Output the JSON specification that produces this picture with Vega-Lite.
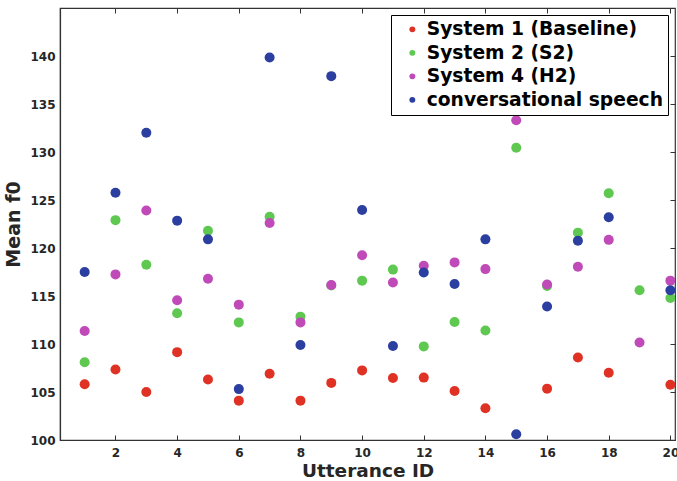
{
  "$schema": "https://vega.github.io/schema/vega-lite/v6.json",
  "autosize": "none",
  "width": 615,
  "height": 432,
  "padding": {"left": 60, "top": 8, "right": 2, "bottom": 41},
  "background": "white",
  "config": {
    "view": {"stroke": "#333333", "strokeWidth": 1.2},
    "font": "DejaVu Sans"
  },
  "data": {"values": [
    {"u":1,"s":"System 1 (Baseline)","f":105.8},{"u":2,"s":"System 1 (Baseline)","f":107.35},{"u":3,"s":"System 1 (Baseline)","f":105.0},{"u":4,"s":"System 1 (Baseline)","f":109.15},{"u":5,"s":"System 1 (Baseline)","f":106.3},{"u":6,"s":"System 1 (Baseline)","f":104.1},{"u":7,"s":"System 1 (Baseline)","f":106.9},{"u":8,"s":"System 1 (Baseline)","f":104.1},{"u":9,"s":"System 1 (Baseline)","f":105.95},{"u":10,"s":"System 1 (Baseline)","f":107.25},{"u":11,"s":"System 1 (Baseline)","f":106.45},{"u":12,"s":"System 1 (Baseline)","f":106.5},{"u":13,"s":"System 1 (Baseline)","f":105.1},{"u":14,"s":"System 1 (Baseline)","f":103.3},{"u":16,"s":"System 1 (Baseline)","f":105.35},{"u":17,"s":"System 1 (Baseline)","f":108.6},{"u":18,"s":"System 1 (Baseline)","f":107.0},{"u":20,"s":"System 1 (Baseline)","f":105.75},
    {"u":1,"s":"System 2 (S2)","f":108.1},{"u":2,"s":"System 2 (S2)","f":122.9},{"u":3,"s":"System 2 (S2)","f":118.25},{"u":4,"s":"System 2 (S2)","f":113.2},{"u":5,"s":"System 2 (S2)","f":121.8},{"u":6,"s":"System 2 (S2)","f":112.25},{"u":7,"s":"System 2 (S2)","f":123.25},{"u":8,"s":"System 2 (S2)","f":112.85},{"u":9,"s":"System 2 (S2)","f":116.1},{"u":10,"s":"System 2 (S2)","f":116.6},{"u":11,"s":"System 2 (S2)","f":117.75},{"u":12,"s":"System 2 (S2)","f":109.75},{"u":13,"s":"System 2 (S2)","f":112.3},{"u":14,"s":"System 2 (S2)","f":111.4},{"u":15,"s":"System 2 (S2)","f":130.45},{"u":16,"s":"System 2 (S2)","f":116.05},{"u":17,"s":"System 2 (S2)","f":121.6},{"u":18,"s":"System 2 (S2)","f":125.7},{"u":19,"s":"System 2 (S2)","f":115.6},{"u":20,"s":"System 2 (S2)","f":114.8},
    {"u":1,"s":"System 4 (H2)","f":111.35},{"u":2,"s":"System 4 (H2)","f":117.25},{"u":3,"s":"System 4 (H2)","f":123.9},{"u":4,"s":"System 4 (H2)","f":114.55},{"u":5,"s":"System 4 (H2)","f":116.8},{"u":6,"s":"System 4 (H2)","f":114.1},{"u":7,"s":"System 4 (H2)","f":122.6},{"u":8,"s":"System 4 (H2)","f":112.25},{"u":9,"s":"System 4 (H2)","f":116.15},{"u":10,"s":"System 4 (H2)","f":119.25},{"u":11,"s":"System 4 (H2)","f":116.4},{"u":12,"s":"System 4 (H2)","f":118.15},{"u":13,"s":"System 4 (H2)","f":118.5},{"u":14,"s":"System 4 (H2)","f":117.8},{"u":15,"s":"System 4 (H2)","f":133.3},{"u":16,"s":"System 4 (H2)","f":116.2},{"u":17,"s":"System 4 (H2)","f":118.05},{"u":18,"s":"System 4 (H2)","f":120.85},{"u":19,"s":"System 4 (H2)","f":110.15},{"u":20,"s":"System 4 (H2)","f":116.6},
    {"u":1,"s":"conversational speech","f":117.5},{"u":2,"s":"conversational speech","f":125.75},{"u":3,"s":"conversational speech","f":132.0},{"u":4,"s":"conversational speech","f":122.85},{"u":5,"s":"conversational speech","f":120.9},{"u":6,"s":"conversational speech","f":105.3},{"u":7,"s":"conversational speech","f":139.85},{"u":8,"s":"conversational speech","f":109.9},{"u":9,"s":"conversational speech","f":137.9},{"u":10,"s":"conversational speech","f":123.95},{"u":11,"s":"conversational speech","f":109.8},{"u":12,"s":"conversational speech","f":117.45},{"u":13,"s":"conversational speech","f":116.25},{"u":14,"s":"conversational speech","f":120.9},{"u":15,"s":"conversational speech","f":100.6},{"u":16,"s":"conversational speech","f":113.9},{"u":17,"s":"conversational speech","f":120.75},{"u":18,"s":"conversational speech","f":123.2},{"u":20,"s":"conversational speech","f":115.6}
  ]},
  "layer": [
    {
      "mark": {"type": "circle", "size": 100, "opacity": 1, "clip": true},
      "encoding": {
        "x": {"field": "u", "type": "quantitative",
          "scale": {"domain": [0.2, 20.15], "nice": false, "zero": false},
          "axis": {"title": "Utterance ID", "values": [2,4,6,8,10,12,14,16,18,20], "grid": false,
            "tickSize": -5, "tickColor": "#333333", "domainColor": "#333333", "domainWidth": 1.2,
            "labelFont": "DejaVu Sans", "labelFontWeight": "bold", "labelFontSize": 12, "labelColor": "#262626", "labelPadding": 12,
            "titleFont": "DejaVu Sans", "titleFontWeight": "bold", "titleFontSize": 18.5, "titleColor": "#262626", "titlePadding": 3}},
        "y": {"field": "f", "type": "quantitative",
          "scale": {"domain": [100, 145], "nice": false, "zero": false},
          "axis": {"title": "Mean f0", "values": [100,105,110,115,120,125,130,135,140], "grid": false,
            "ticks": false, "domainColor": "#333333", "domainWidth": 1.2,
            "labelFont": "DejaVu Sans", "labelFontWeight": "bold", "labelFontSize": 12, "labelColor": "#262626", "labelPadding": 5,
            "titleFont": "DejaVu Sans", "titleFontWeight": "bold", "titleFontSize": 19, "titleColor": "#262626", "titlePadding": 6}},
        "color": {"field": "s", "type": "nominal",
          "scale": {"domain": ["System 1 (Baseline)", "System 2 (S2)", "System 4 (H2)", "conversational speech"],
                    "range": ["#e03224", "#5ec850", "#bf4ab8", "#2b3fa0"]},
          "legend": {"title": null, "orient": "none", "legendX": 331, "legendY": 7,
            "symbolType": "circle", "symbolSize": 35, "symbolOpacity": 1, "symbolOffset": 7,
            "labelFont": "DejaVu Sans", "labelFontWeight": "bold", "labelFontSize": 18.7, "labelColor": "black",
            "labelOffset": 5, "rowPadding": 3.5, "padding": 5, "fillColor": "white", "strokeColor": "black",
            "labelLimit": 400}}
      }
    },
    {
      "mark": {"type": "circle", "opacity": 0},
      "encoding": {
        "x": {"field": "u", "type": "quantitative",
          "axis": {"orient": "top", "title": null, "labels": false, "values": [2,4,6,8,10,12,14,16,18,20], "grid": false, "tickSize": -5, "tickColor": "#333333", "domain": false}},
        "y": {"field": "f", "type": "quantitative",
          "axis": {"orient": "right", "title": null, "labels": false, "values": [100,105,110,115,120,125,130,135,140], "grid": false, "tickSize": -5, "tickColor": "#333333", "domain": false}}
      }
    }
  ],
  "resolve": {"axis": {"x": "independent", "y": "independent"}}
}
